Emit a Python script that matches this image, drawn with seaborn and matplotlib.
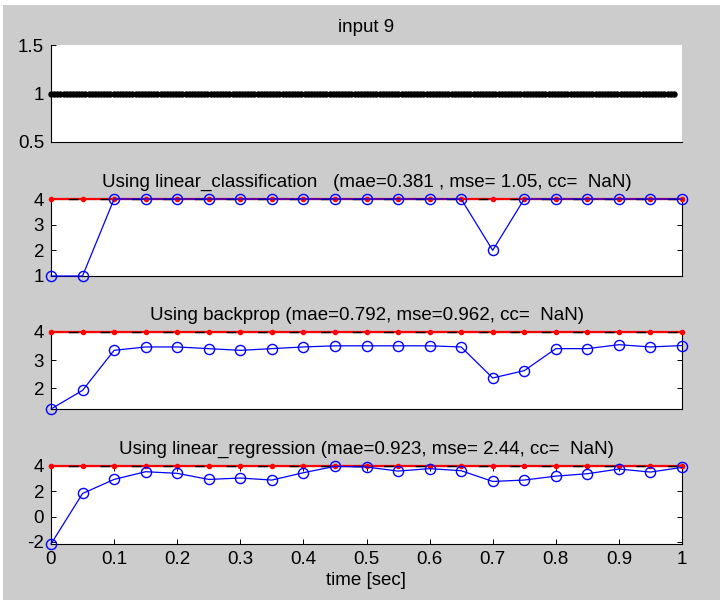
import numpy as np
import matplotlib
matplotlib.use("Agg")
import matplotlib.pyplot as plt
import seaborn as sns
from matplotlib.patches import Rectangle

# time axis of the prediction panels
t = [0.0, 0.05, 0.1, 0.15, 0.2, 0.25, 0.3, 0.35, 0.4, 0.45, 0.5,
     0.55, 0.6, 0.65, 0.7, 0.75, 0.8, 0.85, 0.9, 0.95, 1.0]

# dense input samples (all equal to 1)
input_time = np.linspace(0, 0.987, 200)
input_vals = [1.0] * len(input_time)

target = [4] * 21

pred_linclass = [1, 1, 4, 4, 4, 4, 4, 4, 4, 4, 4, 4, 4, 4, 2, 4, 4, 4, 4, 4, 4]
pred_backprop = [1.27, 1.93, 3.35, 3.47, 3.47, 3.41, 3.35, 3.41, 3.47, 3.51, 3.51,
                 3.51, 3.51, 3.47, 2.37, 2.63, 3.41, 3.41, 3.55, 3.47, 3.52]
pred_linreg = [-2.16, 1.83, 2.94, 3.55, 3.42, 2.94, 3.05, 2.89, 3.47, 3.97, 3.92,
               3.60, 3.79, 3.63, 2.78, 2.89, 3.20, 3.39, 3.76, 3.52, 3.89]

titles = ["Using linear_classification   (mae=0.381 , mse= 1.05, cc=  NaN)",
          "Using backprop (mae=0.792, mse=0.962, cc=  NaN)",
          "Using linear_regression (mae=0.923, mse= 2.44, cc=  NaN)"]
yticks = [[1, 2, 3, 4], [2, 3, 4], [-2, 0, 2, 4]]
xticks = [0, 0.1, 0.2, 0.3, 0.4, 0.5, 0.6, 0.7, 0.8, 0.9, 1]
xticklabels = ["0", "0.1", "0.2", "0.3", "0.4", "0.5", "0.6", "0.7", "0.8", "0.9", "1"]

FS = 13.5

sns.set_theme(style="white")
plt.rcParams["font.family"] = ["Liberation Sans", "DejaVu Sans"]
plt.rcParams["font.size"] = FS

fig = plt.figure(figsize=(7.2, 6.0), dpi=100, facecolor="#cccccc")
fig.patches.append(Rectangle((0, 1 - 5 / 600), 1, 5 / 600, transform=fig.transFigure,
                             facecolor="white", edgecolor="none"))
fig.patches.append(Rectangle((0, 0), 3 / 720, 1, transform=fig.transFigure,
                             facecolor="white", edgecolor="none"))

left, width = 51 / 720, 631 / 720
boxes = [(142, 97), (276, 77), (409, 77), (544, 78)]
axes = [fig.add_axes([left, (600 - b) / 600, width, h / 600]) for b, h in boxes]

tick_kw = dict(direction="in", length=3.6, width=0.7, color="black",
               labelsize=FS, labelcolor="black", pad=5)

# input panel
ax = axes[0]
ax.set_facecolor("white")
ax.plot(input_time, input_vals, color="black", marker="o", markersize=4.6,
        linewidth=1.0, markeredgewidth=0, clip_on=False)
ax.set_xlim(0, 1)
ax.set_ylim(0.5, 1.5)
ax.set_yticks([0.5, 1, 1.5])
ax.set_yticklabels(["0.5", "1", "1.5"])
ax.set_xticks([])
ax.tick_params(axis="y", left=True, right=False, **tick_kw)
for side in ["top", "right"]:
    ax.spines[side].set_visible(False)
for side in ["left", "bottom"]:
    ax.spines[side].set_color("black")
    ax.spines[side].set_linewidth(0.8)
ax.set_title("input 9", fontsize=FS, pad=9, color="black")

preds = [pred_linclass, pred_backprop, pred_linreg]
for i, ax in enumerate(axes[1:]):
    pred = preds[i]
    ax.set_facecolor("white")
    sns.lineplot(x=t, y=target, ax=ax, color="red", marker="o", markersize=4.0,
                 markeredgewidth=0, linewidth=1.6, clip_on=False, zorder=3)
    ax.plot(t, target, color="black", linewidth=1.0, linestyle=(10.2, (7, 15.7)),
            clip_on=False, zorder=3.5)
    sns.lineplot(x=t, y=pred, ax=ax, color="blue", marker="o", markersize=7.3,
                 markerfacecolor="none", markeredgecolor="blue", markeredgewidth=1.0,
                 linewidth=0.9, clip_on=False, zorder=4)
    ax.set_xlim(0, 1)
    ax.set_ylim(min(pred + target), max(pred + target))
    ax.set_yticks(yticks[i])
    ax.set_yticklabels([str(v) for v in yticks[i]])
    ax.tick_params(axis="y", left=True, right=True, **tick_kw)
    for side in ax.spines:
        ax.spines[side].set_visible(True)
        ax.spines[side].set_color("black")
        ax.spines[side].set_linewidth(0.8)
    ax.set_title(titles[i], fontsize=FS, pad=9, color="black")
    ax.set_xlabel("")
    ax.set_ylabel("")
    if i < 2:
        ax.set_xticks([])
    else:
        ax.set_xticks(xticks)
        ax.set_xticklabels(xticklabels)
        ax.tick_params(axis="x", bottom=True, top=True, **tick_kw)
        ax.set_xlabel("time [sec]", fontsize=FS, color="black", labelpad=3)

fig.savefig("out.png", dpi=100, facecolor=fig.get_facecolor())
